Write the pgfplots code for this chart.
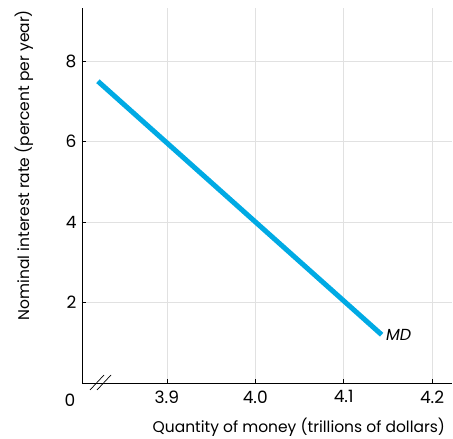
\documentclass[border=0pt]{standalone}
\usepackage{pgfplots}
\pgfplotsset{compat=1.18}
\usepackage{fontspec}
\setmainfont{Poppins}
\definecolor{mdblue}{RGB}{0,170,228}
\definecolor{gridgray}{RGB}{225,225,225}
\begin{document}
\begin{tikzpicture}[x=1pt,y=1pt]
\begin{axis}[
    scale only axis,
    width=370pt, height=375pt,
    at={(0,0)}, anchor=south west,
    xmin=3.804, xmax=4.2226,
    ymin=0, ymax=9.32,
    axis lines=left,
    axis line style={-, line width=0.8pt},
    xtick={3.9,4.0,4.1,4.2},
    xticklabels={3.9,4.0,4.1,4.2},
    ytick={2,4,6,8},
    tick align=inside,
    major tick length=4pt,
    tick style={black, line width=0.7pt},
    grid=major,
    major grid style={gridgray, line width=0.6pt},
    font=\fontsize{15.5}{18}\selectfont,
    ticklabel style={font=\fontsize{17}{19}\selectfont},
    /pgf/number format/assume math mode=true,
    xticklabel style={yshift=-4pt},
    yticklabel style={xshift=-2pt},
    xlabel={Quantity of money (trillions of dollars)},
    ylabel={Nominal interest rate (percent per year)},
    xlabel style={at={(rel axis cs:0.586,0)}, anchor=center, yshift=-44pt},
    ylabel style={at={(rel axis cs:0,0.581)}, anchor=center, yshift=58pt},
    clip=false,
]
\addplot[mdblue, line width=5pt] coordinates {(3.822,7.5) (4.143,1.2)};
\node[anchor=west, font=\fontsize{16}{18}\selectfont\itshape, xshift=1pt] at (axis cs:4.143,1.2) {MD};
\draw[line width=0.7pt] ([xshift=8pt,yshift=-7pt]rel axis cs:0,0) -- ([xshift=22pt,yshift=8pt]rel axis cs:0,0);
\draw[line width=0.7pt] ([xshift=15pt,yshift=-7pt]rel axis cs:0,0) -- ([xshift=29pt,yshift=8pt]rel axis cs:0,0);
\node[font=\fontsize{17}{19}\selectfont] at ([xshift=-12pt,yshift=-17pt]rel axis cs:0,0) {0};
\end{axis}
\pgfresetboundingbox
\path[use as bounding box] (-82,-56) rectangle (371,383);
\end{tikzpicture}
\end{document}
